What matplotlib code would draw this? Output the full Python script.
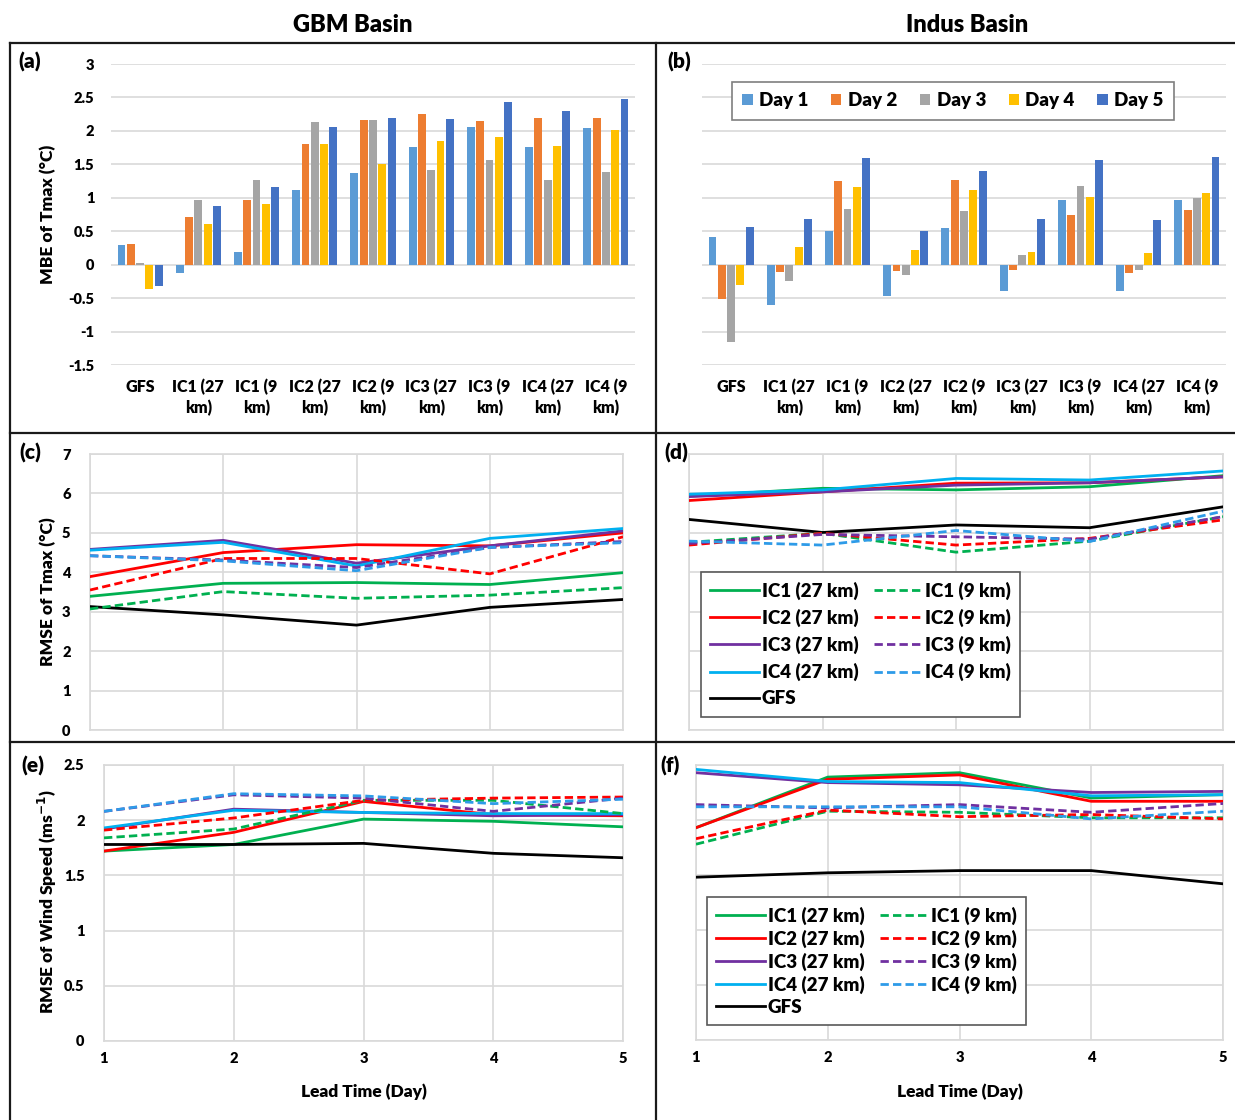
import numpy as np
import matplotlib
matplotlib.use("Agg")
import matplotlib.pyplot as plt
from matplotlib.lines import Line2D

plt.rcParams['font.family'] = ['Lato', 'DejaVu Sans']
plt.rcParams['font.weight'] = 'heavy'
BW = 'heavy'

# ---------------- data ----------------
categories = ["GFS", "IC1 (27\nkm)", "IC1 (9\nkm)", "IC2 (27\nkm)", "IC2 (9\nkm)",
              "IC3 (27\nkm)", "IC3 (9\nkm)", "IC4 (27\nkm)", "IC4 (9\nkm)"]
day_labels = ["Day 1", "Day 2", "Day 3", "Day 4", "Day 5"]

# MBE of Tmax, GBM basin: one list per day, values per category
mbe_gbm_day1 = [0.29, -0.12, 0.19, 1.11, 1.37, 1.76, 2.06, 1.76, 2.05]
mbe_gbm_day2 = [0.31, 0.72, 0.97, 1.80, 2.16, 2.25, 2.15, 2.19, 2.19]
mbe_gbm_day3 = [0.02, 0.96, 1.27, 2.13, 2.16, 1.41, 1.56, 1.27, 1.38]
mbe_gbm_day4 = [-0.36, 0.61, 0.90, 1.80, 1.50, 1.85, 1.91, 1.77, 2.02]
mbe_gbm_day5 = [-0.32, 0.87, 1.16, 2.06, 2.19, 2.18, 2.43, 2.30, 2.47]

# MBE of Tmax, Indus basin
mbe_ind_day1 = [0.41, -0.60, 0.51, -0.47, 0.55, -0.40, 0.97, -0.40, 0.97]
mbe_ind_day2 = [-0.52, -0.11, 1.25, -0.09, 1.26, -0.08, 0.75, -0.13, 0.81]
mbe_ind_day3 = [-1.16, -0.24, 0.83, -0.16, 0.80, 0.15, 1.17, -0.08, 0.99]
mbe_ind_day4 = [-0.30, 0.26, 1.16, 0.22, 1.11, 0.19, 1.01, 0.18, 1.07]
mbe_ind_day5 = [0.56, 0.69, 1.60, 0.51, 1.40, 0.69, 1.56, 0.67, 1.61]

lead_days = [1, 2, 3, 4, 5]
series_names = ["IC1 (27 km)", "IC2 (27 km)", "IC3 (27 km)", "IC4 (27 km)", "GFS",
                "IC1 (9 km)", "IC2 (9 km)", "IC3 (9 km)", "IC4 (9 km)"]

# RMSE of Tmax, GBM
rmse_t_gbm_ic1_27 = [3.39, 3.72, 3.74, 3.69, 3.99]
rmse_t_gbm_ic2_27 = [3.89, 4.50, 4.70, 4.67, 5.00]
rmse_t_gbm_ic3_27 = [4.58, 4.81, 4.23, 4.67, 5.05]
rmse_t_gbm_ic4_27 = [4.56, 4.76, 4.16, 4.86, 5.11]
rmse_t_gbm_gfs = [3.13, 2.92, 2.66, 3.11, 3.31]
rmse_t_gbm_ic1_9 = [3.07, 3.51, 3.34, 3.42, 3.61]
rmse_t_gbm_ic2_9 = [3.55, 4.35, 4.35, 3.96, 4.90]
rmse_t_gbm_ic3_9 = [4.42, 4.31, 4.12, 4.63, 4.78]
rmse_t_gbm_ic4_9 = [4.42, 4.29, 4.04, 4.63, 4.75]

# RMSE of Tmax, Indus
rmse_t_ind_ic1_27 = [5.93, 6.13, 6.09, 6.17, 6.45]
rmse_t_ind_ic2_27 = [5.82, 6.04, 6.26, 6.27, 6.42]
rmse_t_ind_ic3_27 = [5.92, 6.04, 6.21, 6.27, 6.42]
rmse_t_ind_ic4_27 = [5.98, 6.09, 6.38, 6.34, 6.57]
rmse_t_ind_gfs = [5.34, 5.01, 5.20, 5.13, 5.66]
rmse_t_ind_ic1_9 = [4.76, 4.99, 4.51, 4.79, 5.41]
rmse_t_ind_ic2_9 = [4.69, 4.99, 4.69, 4.86, 5.33]
rmse_t_ind_ic3_9 = [4.73, 4.96, 4.90, 4.84, 5.41]
rmse_t_ind_ic4_9 = [4.79, 4.69, 5.06, 4.78, 5.55]

# RMSE of wind speed, GBM
rmse_w_gbm_ic1_27 = [1.72, 1.78, 2.01, 1.99, 1.94]
rmse_w_gbm_ic2_27 = [1.72, 1.89, 2.17, 2.05, 2.04]
rmse_w_gbm_ic3_27 = [1.92, 2.10, 2.07, 2.04, 2.05]
rmse_w_gbm_ic4_27 = [1.93, 2.09, 2.07, 2.06, 2.06]
rmse_w_gbm_gfs = [1.78, 1.78, 1.79, 1.70, 1.66]
rmse_w_gbm_ic1_9 = [1.84, 1.92, 2.18, 2.18, 2.06]
rmse_w_gbm_ic2_9 = [1.91, 2.02, 2.18, 2.20, 2.21]
rmse_w_gbm_ic3_9 = [2.08, 2.23, 2.20, 2.08, 2.20]
rmse_w_gbm_ic4_9 = [2.08, 2.24, 2.22, 2.15, 2.19]

# RMSE of wind speed, Indus
rmse_w_ind_ic1_27 = [1.93, 2.39, 2.43, 2.20, 2.23]
rmse_w_ind_ic2_27 = [1.93, 2.37, 2.41, 2.17, 2.17]
rmse_w_ind_ic3_27 = [2.43, 2.34, 2.32, 2.25, 2.26]
rmse_w_ind_ic4_27 = [2.46, 2.35, 2.34, 2.22, 2.23]
rmse_w_ind_gfs = [1.48, 1.52, 1.54, 1.54, 1.42]
rmse_w_ind_ic1_9 = [1.78, 2.08, 2.07, 2.02, 2.02]
rmse_w_ind_ic2_9 = [1.83, 2.09, 2.03, 2.05, 2.01]
rmse_w_ind_ic3_9 = [2.14, 2.11, 2.14, 2.07, 2.15]
rmse_w_ind_ic4_9 = [2.12, 2.12, 2.12, 2.01, 2.08]

# ---------------- styles ----------------
day_colors = ["#5B9BD5", "#ED7D31", "#A5A5A5", "#FFC000", "#4472C4"]
line_colors = ["#00B050", "#FF0000", "#7030A0", "#00B0F0", "#000000",
               "#00B050", "#FF0000", "#7030A0", "#2E9BE8"]
line_styles = ["-", "-", "-", "-", "-",
               (0, (3, 1.5)), (0, (3, 1.5)), (0, (3, 1.5)), (0, (3, 1.5))]
grid_c = "#D9D9D9"

W, H = 1235, 1120
fig = plt.figure(figsize=(W / 100, H / 100), dpi=100)


def fax(x0, y0, x1, y1):
    return fig.add_axes([x0 / W, 1 - y1 / H, (x1 - x0) / W, (y1 - y0) / H])


# ---------------- bar panels ----------------
def bar_panel(ax, data, show_yticks):
    x = np.arange(len(categories))
    handles = []
    for i, vals in enumerate(data):
        b = ax.bar(x + (i - 2) * 0.16, vals, width=0.135, color=day_colors[i],
                   label=day_labels[i], zorder=3)
        handles.append(b)
    ax.set_xlim(-0.5, len(categories) - 0.5)
    ax.set_ylim(-1.5, 3)
    yt = np.arange(-1.5, 3.01, 0.5)
    ax.set_yticks(yt)
    ax.set_yticklabels([("%g" % v) for v in yt] if show_yticks else [])
    ax.grid(axis='y', color=grid_c, lw=1.2, zorder=0)
    for s in ax.spines.values():
        s.set_visible(False)
    ax.set_xticks(x)
    ax.set_xticklabels(categories, linespacing=1.3, fontweight=BW)
    ax.tick_params(axis='x', length=0, pad=10, labelsize=11.5)
    ax.tick_params(axis='y', length=0, pad=12, labelsize=10.5)
    for t in ax.get_yticklabels():
        t.set_fontweight(BW)
    return handles


ax_a = fax(111, 64, 635, 365)
bar_panel(ax_a, [mbe_gbm_day1, mbe_gbm_day2, mbe_gbm_day3, mbe_gbm_day4, mbe_gbm_day5], True)
ax_b = fax(702, 64, 1226, 365)
hb = bar_panel(ax_b, [mbe_ind_day1, mbe_ind_day2, mbe_ind_day3, mbe_ind_day4, mbe_ind_day5], False)
leg = ax_b.legend(hb, day_labels, ncol=5, loc='upper left',
                  bbox_to_anchor=(732 / W, 1 - 82 / H), bbox_transform=fig.transFigure,
                  borderaxespad=0, handlelength=0.55, handleheight=0.55, handletextpad=0.35,
                  columnspacing=1.2, borderpad=0.55, fancybox=False, framealpha=1,
                  edgecolor="#7F7F7F", prop={'weight': BW, 'size': 13.5})
leg.get_frame().set_linewidth(1.2)


# ---------------- line panels ----------------
def line_panel(ax, series, ylim, ystep, show_yticks, show_xticks):
    hs = []
    for i, vals in enumerate(series):
        h, = ax.plot(lead_days, vals, color=line_colors[i], ls=line_styles[i],
                     lw=2.0, label=series_names[i], zorder=3)
        hs.append(h)
    ax.set_xlim(1, 5)
    ax.set_ylim(*ylim)
    yt = np.arange(ylim[0], ylim[1] + 1e-9, ystep)
    ax.set_yticks(yt)
    ax.set_yticklabels([("%g" % v) for v in yt] if show_yticks else [])
    ax.set_xticks(lead_days)
    ax.set_xticklabels([str(d) for d in lead_days] if show_xticks else [])
    ax.grid(True, color=grid_c, lw=1.2, zorder=0)
    for s in ax.spines.values():
        s.set_color(grid_c)
        s.set_linewidth(1.2)
    ax.tick_params(length=0, labelsize=10.5)
    ax.tick_params(axis='y', pad=14)
    ax.tick_params(axis='x', pad=8)
    for t in ax.get_yticklabels() + ax.get_xticklabels():
        t.set_fontweight(BW)
    return hs


def legend9(ax, hs, x0, y0, spacing):
    lg = ax.legend(hs, [h.get_label() for h in hs], ncol=2, loc='upper left',
                   bbox_to_anchor=(x0 / W, 1 - y0 / H), bbox_transform=fig.transFigure,
                   borderaxespad=0,
                   prop={'weight': BW, 'size': 13.5}, handlelength=2.6, handletextpad=0.15,
                   columnspacing=0.8, labelspacing=spacing, borderpad=0.5,
                   fancybox=False, framealpha=1, edgecolor="#595959")
    lg.get_frame().set_linewidth(1.2)
    return lg


ax_c = fax(90, 454, 623, 730)
line_panel(ax_c, [rmse_t_gbm_ic1_27, rmse_t_gbm_ic2_27, rmse_t_gbm_ic3_27, rmse_t_gbm_ic4_27,
                  rmse_t_gbm_gfs, rmse_t_gbm_ic1_9, rmse_t_gbm_ic2_9, rmse_t_gbm_ic3_9,
                  rmse_t_gbm_ic4_9], (0, 7), 1, True, False)

ax_d = fax(689, 454, 1223, 730)
hd = line_panel(ax_d, [rmse_t_ind_ic1_27, rmse_t_ind_ic2_27, rmse_t_ind_ic3_27, rmse_t_ind_ic4_27,
                       rmse_t_ind_gfs, rmse_t_ind_ic1_9, rmse_t_ind_ic2_9, rmse_t_ind_ic3_9,
                       rmse_t_ind_ic4_9], (0, 7), 1, False, False)
legend9(ax_d, hd, 701, 572, 0.48)

ax_e = fax(104, 765, 623, 1041)
line_panel(ax_e, [rmse_w_gbm_ic1_27, rmse_w_gbm_ic2_27, rmse_w_gbm_ic3_27, rmse_w_gbm_ic4_27,
                  rmse_w_gbm_gfs, rmse_w_gbm_ic1_9, rmse_w_gbm_ic2_9, rmse_w_gbm_ic3_9,
                  rmse_w_gbm_ic4_9], (0, 2.5), 0.5, True, True)

ax_f = fax(696, 765, 1223, 1040)
hf = line_panel(ax_f, [rmse_w_ind_ic1_27, rmse_w_ind_ic2_27, rmse_w_ind_ic3_27, rmse_w_ind_ic4_27,
                       rmse_w_ind_gfs, rmse_w_ind_ic1_9, rmse_w_ind_ic2_9, rmse_w_ind_ic3_9,
                       rmse_w_ind_ic4_9], (0, 2.5), 0.5, False, True)
legend9(ax_f, hf, 707, 897, 0.26)

# ---------------- texts ----------------
def ftext(x, y, s, **kw):
    fig.text(x / W, 1 - y / H, s, ha='center', va='center', fontweight=BW, **kw)


ftext(353, 25, "GBM Basin", fontsize=17)
ftext(967, 25, "Indus Basin", fontsize=17)
ftext(48, 214, "MBE of Tmax (°C)", fontsize=12.5, rotation=90)
ftext(48, 592, "RMSE of Tmax (°C)", fontsize=12.5, rotation=90)
ftext(47, 902, "RMSE of Wind Speed (ms$^{\\mathbf{-1}}$)", fontsize=12.5, rotation=90)
ftext(364, 1092, "Lead Time (Day)", fontsize=12.5)
ftext(960, 1092, "Lead Time (Day)", fontsize=12.5)
for lab, x, y in [("(a)", 30, 62), ("(b)", 679, 62), ("(c)", 30, 453),
                  ("(d)", 676, 453), ("(e)", 33, 766), ("(f)", 670, 766)]:
    ftext(x, y, lab, fontsize=15)

# ---------------- frame lines ----------------
def fline(x0, y0, x1, y1):
    fig.add_artist(Line2D([x0 / W, x1 / W], [1 - y0 / H, 1 - y1 / H],
                          transform=fig.transFigure, color='#1a1a1a', lw=1.6))


fline(10, 43, 1235, 43)
fline(10, 43, 10, 1120)
fline(656, 43, 656, 1120)
fline(10, 433, 1235, 433)
fline(10, 742, 1235, 742)

fig.savefig("out.png", dpi=100)
